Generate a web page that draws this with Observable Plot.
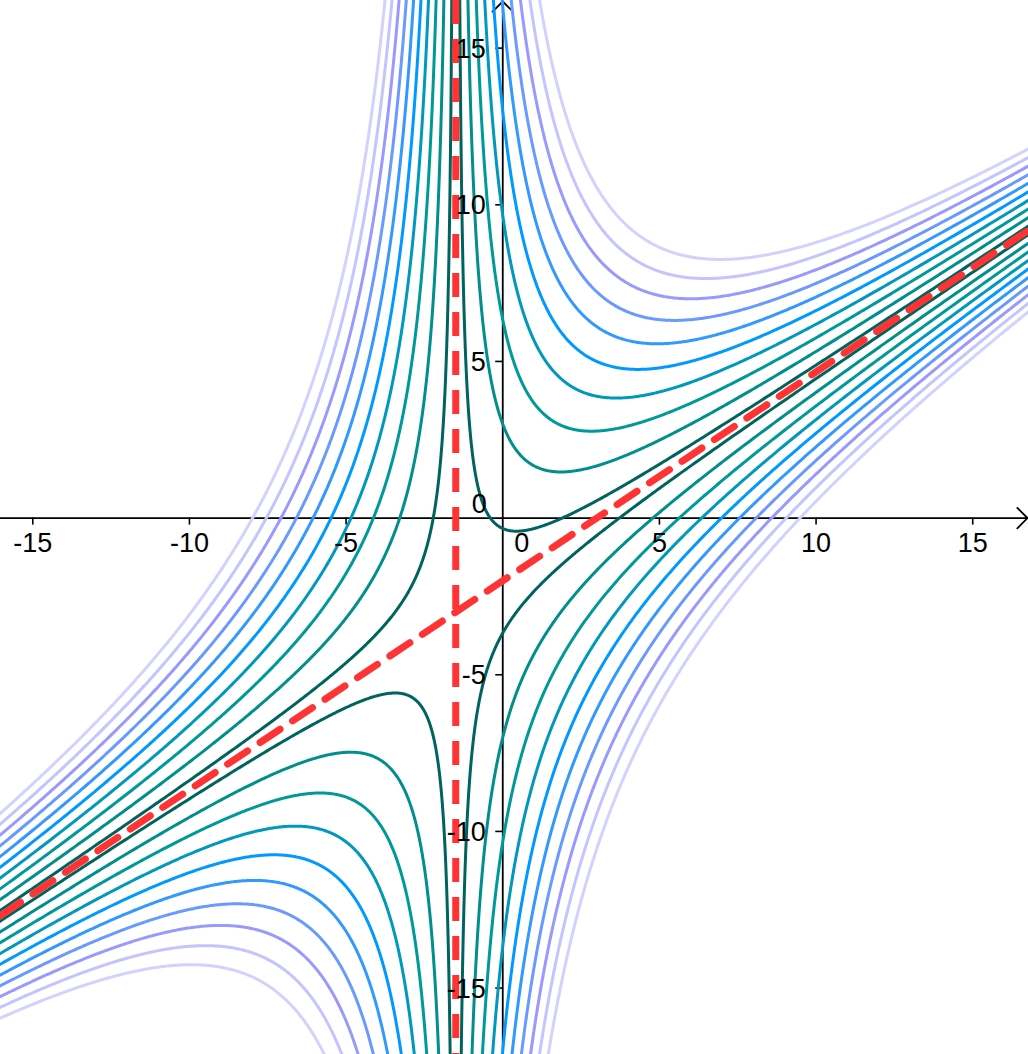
<!DOCTYPE html>
<html><head><meta charset="utf-8">
<script src="https://cdn.jsdelivr.net/npm/d3@7"></script>
<script src="https://cdn.jsdelivr.net/npm/@observablehq/plot@0.6"></script>
<style>html,body{margin:0;padding:0;background:#fff;overflow:hidden}</style>
</head><body><div id="chart"></div>
<script>
// Visible window (data units)
const xDomain = [-16.03, 16.78];
const yDomain = [-17.12, 16.52];

// Family of hyperbolas: (x - a) * (y - (m*x + b)) = c
const verticalAsymptote = -1.5;
const slantSlope = 2 / 3;
const slantIntercept = -2;
const levels = [2.5, 7.5, 12.5, 17.5, 22.5, 27.5, 32.5, 37.5, 42.5, 47.5];
const levelColors = ["#00645e", "#008f8c", "#009999", "#0099bb", "#0099ff", "#3399ff", "#6a99ff", "#9999ff", "#c4c4ff", "#d2d2ff"];

// Axis ticks
const xTicks = [-15, -10, -5, 5, 10, 15];
const yTicks = [-15, -10, -5, 5, 10, 15];
const zeroLabel = ["0"];

// Build the curve table from the levels
const curves = [];
levels.forEach((c0, k) => {
  for (const sign of [1, -1]) {
    const c = sign * c0;
    for (const side of [1, -1]) {
      const id = `${k}_${sign}_${side}`;
      const umin = Math.abs(c) / 80, umax = 19, N = 700;
      for (let i = 0; i <= N; i++) {
        const u = side * umin * Math.pow(umax / umin, i / N);
        const x = verticalAsymptote + u;
        const y = slantSlope * x + slantIntercept + c / u;
        curves.push({id, k, x, y, color: levelColors[k]});
      }
    }
  }
});
curves.sort((a, b) => b.k - a.k);

const slant = xDomain.map(x => ({x, y: slantSlope * x + slantIntercept}));
const axisLines = [
  {x1: xDomain[0], y1: 0, x2: xDomain[1], y2: 0},
  {x1: 0, y1: yDomain[0], x2: 0, y2: yDomain[1]}
];

const font = "Liberation Sans, Arial, sans-serif";
const chart = Plot.plot({
  width: 1028,
  height: 1054,
  margin: 0,
  x: {domain: xDomain, axis: null},
  y: {domain: yDomain, axis: null},
  style: {fontFamily: font, background: "#fff"},
  marks: [
    Plot.arrow(axisLines, {x1: "x1", y1: "y1", x2: "x2", y2: "y2", stroke: "#000", strokeWidth: 1.8, headAngle: 90, headLength: 12, insetEnd: 1}),
    Plot.ruleX(xTicks, {x: d => d, y1: d => 0, y2: d => 0, insetTop: 0, insetBottom: -7, stroke: "#000", strokeWidth: 1.6}),
    Plot.ruleY(yTicks, {y: d => d, x1: d => 0, x2: d => 0, insetLeft: -7, insetRight: 0, stroke: "#000", strokeWidth: 1.6}),
    Plot.line(curves, {x: "x", y: "y", z: "id", stroke: "color", strokeWidth: 3, clip: true, curve: "linear"}),
    Plot.ruleX([verticalAsymptote], {stroke: "#ff3333", strokeWidth: 7, strokeDasharray: "24,15"}),
    Plot.line(slant, {x: "x", y: "y", stroke: "#ff3333", strokeWidth: 7, strokeDasharray: "24,15", clip: true}),
    Plot.text(xTicks, {x: d => d, y: d => 0, text: d => String(d), dy: 25.5, fontSize: 27, fill: "#000", fontFamily: font}),
    Plot.text(yTicks, {x: d => 0, y: d => d, text: d => String(d), textAnchor: "end", dx: -17, dy: 1, fontSize: 27, fill: "#000", fontFamily: font}),
    Plot.text(zeroLabel, {x: d => 0, y: d => 0, text: d => d, dx: 19, dy: 25.5, fontSize: 27, fill: "#000", fontFamily: font}),
    Plot.text(zeroLabel, {x: d => 0, y: d => 0, text: d => d, textAnchor: "end", dx: -16, dy: -14, fontSize: 27, fill: "#000", fontFamily: font})
  ]
});
document.getElementById("chart").appendChild(chart);
</script>
</body></html>
